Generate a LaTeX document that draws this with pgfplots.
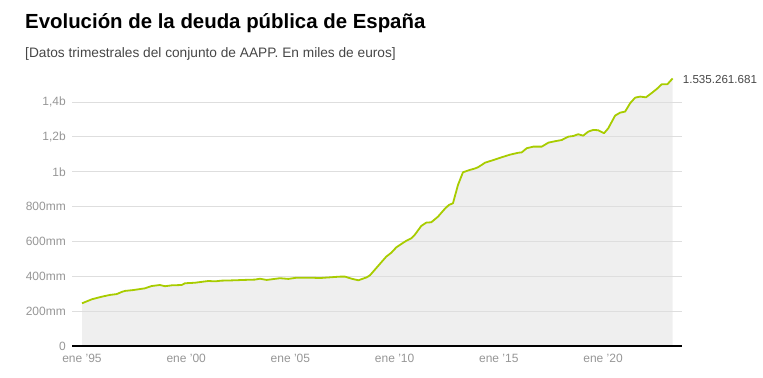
\documentclass[border=0pt]{standalone}
\usepackage{pgfplots}
\usepackage{pgfplotstable}
\pgfplotsset{compat=1.18}
\usepackage{fontspec}
\setmainfont{Liberation Sans}
\definecolor{linec}{RGB}{168,204,0}
\definecolor{areac}{RGB}{239,239,239}
\definecolor{gridc}{RGB}{222,222,222}
\definecolor{tickc}{RGB}{150,150,150}
\definecolor{annc}{RGB}{70,70,70}
\pgfplotstableread{
x y
1995.00 245
1995.47 268
1995.95 283
1996.34 293
1996.67 298
1996.90 310
1997.06 316
1997.46 321
1998.02 331
1998.34 344
1998.74 350
1998.98 343
1999.30 348
1999.78 350
1999.94 360
2000.42 363
2001.06 373
2001.38 371
2001.70 375
2002.34 377
2002.74 379
2003.30 381
2003.54 386
2003.86 379
2004.50 389
2004.90 385
2005.30 392
2005.94 392
2006.42 390
2006.90 394
2007.38 398
2007.62 398
2007.94 386
2008.26 377
2008.66 394
2008.82 406
2009.30 472
2009.60 513
2009.84 535
2010.08 566
2010.56 604
2010.80 618
2010.96 637
2011.28 689
2011.52 708
2011.76 710
2012.08 742
2012.40 786
2012.60 809
2012.80 819
2013.04 924
2013.28 997
2013.60 1010
2013.84 1018
2014.01 1026
2014.34 1052
2014.74 1067
2015.22 1086
2015.54 1098
2015.94 1109
2016.10 1111
2016.34 1135
2016.66 1144
2017.06 1144
2017.38 1167
2017.70 1175
2018.02 1182
2018.33 1201
2018.57 1205
2018.81 1215
2019.05 1207
2019.29 1230
2019.53 1240
2019.77 1238
2020.05 1221
2020.25 1249
2020.58 1322
2020.82 1339
2021.06 1345
2021.30 1393
2021.54 1425
2021.78 1431
2022.06 1427
2022.34 1452
2022.58 1475
2022.82 1502
2023.09 1502
2023.34 1535.26
}\debt
\begin{document}
\begin{tikzpicture}
\useasboundingbox (0,0) rectangle (763bp,378bp);
\node[anchor=base west, inner sep=0pt, font=\fontsize{20.4bp}{24bp}\selectfont\bfseries] at (25bp,349bp) {Evolución de la deuda pública de España};
\node[anchor=base west, inner sep=0pt, font=\fontsize{13.7bp}{16bp}\selectfont, text=annc] at (25bp,320bp) {[Datos trimestrales del conjunto de AAPP. En miles de euros]};
\begin{axis}[
  at={(72bp,32bp)}, anchor=south west,
  scale only axis, width=610bp, height=271bp,
  xmin=1994.52, xmax=2023.79, ymin=0, ymax=1555,
  separate axis lines,
  axis x line*=bottom, axis y line*=left,
  x axis line style={draw=none},
  y axis line style={draw=none},
  major tick length=0pt,
  xtick={1995,2000,2005,2010,2015,2020},
  xticklabels={ene '95,ene '00,ene '05,ene '10,ene '15,ene '20},
  ytick={0,200,400,600,800,1000,1200,1400},
  yticklabels={0,200mm,400mm,600mm,800mm,1b,{1,2b},{1,4b}},
  tick label style={font=\fontsize{12bp}{14bp}\selectfont, text=tickc},
  yticklabel style={anchor=east, inner sep=0pt, xshift=-6bp},
  xticklabel style={anchor=north, inner sep=0pt, yshift=-8bp},
  clip=false,
]
\addplot[fill=areac, draw=none] table[x=x,y=y]{\debt} \closedcycle;
\pgfplotsinvokeforeach{200,400,600,800,1000,1200,1400}{
  \draw[gridc, line width=0.8bp] (axis cs:1994.52,#1) -- (axis cs:2023.79,#1);
}
\draw[black, line width=1.3bp] (axis cs:1994.52,0) -- (axis cs:2023.79,0);
\addplot[linec, line width=1.8bp, line join=round] table[x=x,y=y]{\debt};
\node[anchor=west, inner sep=0pt, font=\fontsize{11.6bp}{14bp}\selectfont, text=annc] at (axis cs:2023.34,1535.26) [xshift=10bp, yshift=-1bp] {1.535.261.681};
\end{axis}
\end{tikzpicture}
\end{document}
